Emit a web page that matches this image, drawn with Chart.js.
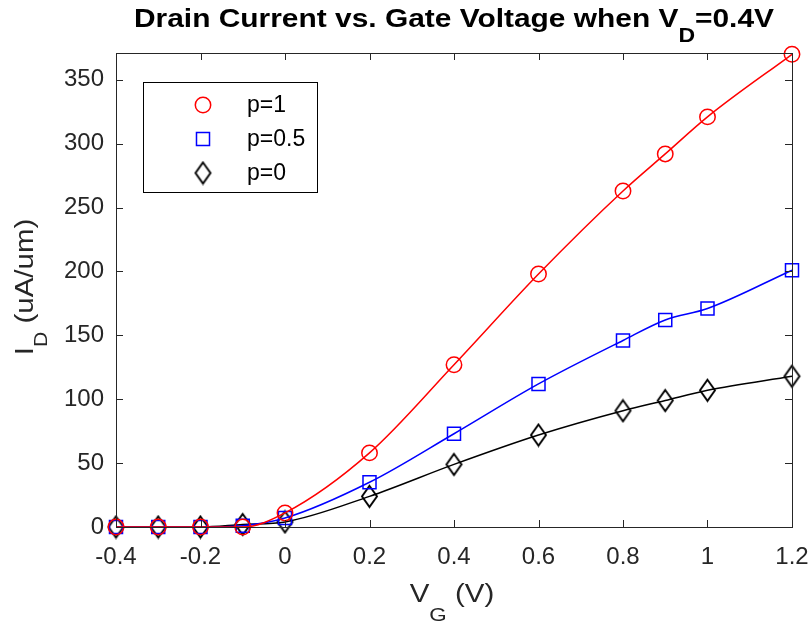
<!DOCTYPE html>
<html>
<head>
<meta charset="utf-8">
<script src="https://cdn.jsdelivr.net/npm/chart.js@4.4.0/dist/chart.umd.min.js"></script>
<style>
    html, body { margin: 0; padding: 0; background: #fff; }
    #wrap { width: 810px; height: 623px; }
</style>
</head>
<body>
<div id="wrap"><canvas id="idChart"></canvas></div>
<script>
// Data
const gateVoltage = [-0.4, -0.3, -0.2, -0.1, 0, 0.2, 0.4, 0.6, 0.8, 0.9, 1.0, 1.2];
const currentP1 = [0, 0, 0, 0, 11, 58, 127, 198, 263, 292, 321, 370];
const currentP05 = [0, 0, 0, 1, 7, 35, 73, 112, 146, 162, 171, 201];
const currentP0 = [0, 0, 0, 2, 4, 24, 49, 72, 91, 99, 107, 118];
const seriesLabels = ['p=1', 'p=0.5', 'p=0'];
const xTicks = [-0.4, -0.2, 0, 0.2, 0.4, 0.6, 0.8, 1, 1.2];
const yTicks = [0, 50, 100, 150, 200, 250, 300, 350];

const FONT = "'Liberation Sans', Arial, Helvetica, sans-serif";
const AXIS_COLOR = '#262626';

// MATLAB style diamond is taller than wide, so build it as a small canvas
function makeDiamond(w, h, color, lw) {
    const c = document.createElement('canvas');
    c.width = w + 4;
    c.height = h + 4;
    const g = c.getContext('2d');
    g.strokeStyle = color;
    g.lineWidth = lw;
    const cx = c.width / 2, cy = c.height / 2;
    g.beginPath();
    g.moveTo(cx, cy - h / 2);
    g.lineTo(cx + w / 2, cy);
    g.lineTo(cx, cy + h / 2);
    g.lineTo(cx - w / 2, cy);
    g.closePath();
    g.stroke();
    return c;
}

function toPoints(ys) {
    return gateVoltage.map((x, i) => ({ x: x, y: ys[i] }));
}

// text made of normal and subscript parts, stretched a bit like the exported figure
function drawParts(ctx, parts, x, y, opt) {
    const weight = opt.bold ? 'bold ' : '';
    let total = 0;
    parts.forEach(p => {
        ctx.font = weight + (p.sub ? opt.sub : opt.size) + 'px ' + FONT;
        p.w = ctx.measureText(p.t).width;
        total += p.w;
    });
    ctx.save();
    ctx.translate(x, y);
    ctx.scale(opt.sx, 1);
    let cx = -total / 2;
    ctx.textAlign = 'left';
    ctx.textBaseline = 'alphabetic';
    parts.forEach(p => {
        ctx.font = weight + (p.sub ? opt.sub : opt.size) + 'px ' + FONT;
        ctx.fillText(p.t, cx, p.sub ? opt.drop : 0);
        cx += p.w;
    });
    ctx.restore();
}

const frame = {
    id: 'frame',
    afterDatasetsDraw(chart) {
        const { ctx, chartArea: a, scales } = chart;
        ctx.save();
        ctx.strokeStyle = AXIS_COLOR;
        ctx.lineWidth = 1;
        ctx.beginPath();
        const tl = 7;
        scales.x.ticks.forEach(t => {
            const px = Math.round(scales.x.getPixelForValue(t.value)) + 0.5;
            ctx.moveTo(px, a.bottom); ctx.lineTo(px, a.bottom - tl);
            ctx.moveTo(px, a.top); ctx.lineTo(px, a.top + tl);
        });
        scales.y.ticks.forEach(t => {
            const py = Math.round(scales.y.getPixelForValue(t.value)) + 0.5;
            ctx.moveTo(a.left, py); ctx.lineTo(a.left + tl, py);
            ctx.moveTo(a.right, py); ctx.lineTo(a.right - tl, py);
        });
        ctx.stroke();
        ctx.strokeRect(Math.round(a.left) + 0.5, Math.round(a.top) + 0.5,
            Math.round(a.right - a.left), Math.round(a.bottom - a.top));

        // legend box, markers only like the original
        const lx = a.left + 27, ly = a.top + 29, lw = 174, lh = 110;
        ctx.fillStyle = '#fff';
        ctx.fillRect(lx, ly, lw, lh);
        ctx.strokeStyle = '#000';
        ctx.strokeRect(Math.round(lx) + 0.5, Math.round(ly) + 0.5, lw, lh);
        chart.data.datasets.forEach((ds, i) => {
            const y = ly + 23 + i * 34;
            ctx.strokeStyle = ds.borderColor;
            ctx.fillStyle = 'rgba(0,0,0,0)';
            ctx.lineWidth = ds.pointBorderWidth;
            Chart.helpers.drawPoint(ctx, {
                pointStyle: ds.pointStyle,
                radius: ds.pointRadius,
                borderWidth: ds.pointBorderWidth,
                rotation: 0
            }, lx + 60, y);
            ctx.fillStyle = '#000';
            ctx.font = '23px ' + FONT;
            ctx.textAlign = 'left';
            ctx.textBaseline = 'middle';
            ctx.fillText(ds.label, lx + 104, y + 1);
        });
        ctx.restore();
    },
    afterDraw(chart) {
        const { ctx, chartArea: a } = chart;
        const midX = (a.left + a.right) / 2;
        const midY = (a.top + a.bottom) / 2;
        ctx.save();
        ctx.fillStyle = '#000';
        drawParts(ctx, [
            { t: 'Drain Current vs. Gate Voltage when V' },
            { t: 'D', sub: true },
            { t: '=0.4V' }
        ], midX, 27, { size: 26, sub: 20, drop: 15, bold: true, sx: 1.15 });

        ctx.fillStyle = AXIS_COLOR;
        drawParts(ctx, [{ t: 'V' }, { t: 'G', sub: true }, { t: ' (V)' }],
            midX - 2, 602, { size: 25, sub: 19, drop: 19, sx: 1.18 });

        ctx.translate(33, midY - 3);
        ctx.rotate(-Math.PI / 2);
        drawParts(ctx, [{ t: 'I' }, { t: 'D', sub: true }, { t: ' (uA/um)' }],
            0, 0, { size: 25, sub: 18, drop: 14, sx: 1.18 });
        ctx.restore();
    }
};

const lineBase = {
    showLine: true,
    clip: false,
    cubicInterpolationMode: 'monotone',
    borderWidth: 1.5,
    pointBorderWidth: 1.5,
    pointBackgroundColor: 'rgba(0,0,0,0)',
    pointHoverRadius: 8
};

new Chart(document.getElementById('idChart'), {
    type: 'scatter',
    data: {
        datasets: [{
            ...lineBase,
            label: seriesLabels[0],
            data: toPoints(currentP1),
            borderColor: '#ff0000',
            pointBorderColor: '#ff0000',
            pointStyle: 'circle',
            pointRadius: 7.7
        }, {
            ...lineBase,
            label: seriesLabels[1],
            data: toPoints(currentP05),
            borderColor: '#0000ff',
            pointBorderColor: '#0000ff',
            pointStyle: 'rect',
            pointRadius: 9.2
        }, {
            ...lineBase,
            label: seriesLabels[2],
            data: toPoints(currentP0),
            borderColor: '#000000',
            pointBorderColor: '#000000',
            pointStyle: makeDiamond(15, 21, '#000', 1.9),
            pointRadius: 9
        }]
    },
    options: {
        responsive: true,
        maintainAspectRatio: false,
        animation: false,
        layout: { padding: { top: 53, right: 18, left: 0, bottom: 0 } },
        plugins: {
            legend: { display: false },
            title: { display: false },
            tooltip: { enabled: false }
        },
        scales: {
            x: {
                type: 'linear',
                min: xTicks[0],
                max: xTicks[xTicks.length - 1],
                afterBuildTicks: s => { s.ticks = xTicks.map(v => ({ value: v })); },
                afterFit: s => {
                    s.height = 96;
                    s.paddingLeft = 0;
                    s.paddingRight = 0;
                },
                grid: { display: false, drawTicks: false },
                border: { display: false },
                ticks: {
                    font: { family: FONT, size: 24 },
                    color: AXIS_COLOR,
                    padding: 16,
                    maxRotation: 0,
                    autoSkip: false,
                    callback: v => String(Math.round(v * 10) / 10)
                }
            },
            y: {
                type: 'linear',
                min: 0,
                max: 371,
                afterBuildTicks: s => { s.ticks = yTicks.map(v => ({ value: v })); },
                afterFit: s => { s.width = 116; },
                grid: { display: false, drawTicks: false },
                border: { display: false },
                ticks: {
                    font: { family: FONT, size: 24 },
                    color: AXIS_COLOR,
                    padding: 12,
                    autoSkip: false
                }
            }
        }
    },
    plugins: [frame]
});
</script>
</body>
</html>
